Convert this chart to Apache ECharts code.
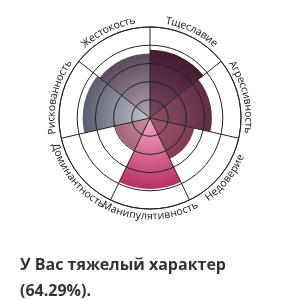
<!DOCTYPE html>
<html>
<head>
<meta charset="utf-8">
<script src="https://cdn.jsdelivr.net/npm/echarts@6/dist/echarts.min.js"></script>
<style>
  html, body { margin: 0; padding: 0; background: #fff; }
  #main { width: 300px; height: 300px; }
</style>
</head>
<body>
<div id="main"></div>
<script>
// черты характера, по часовой стрелке от верха
const categories = ['Тщеславие', 'Агрессивность', 'Недоверие', 'Манипулятивность', 'Доминантность', 'Рискованность', 'Жестокость'];
const values = [3.75, 3.4, 2.5, 3.9, 1.95, 3.7, 3.55];
const ringMax = 5;
const resultTitle = 'У Вас тяжелый характер';
const resultPercent = '64.29';

// цвета секторов: [центр, край]
const sectorColors = [
  ['#7a4866', '#3c172b'],
  ['#8e5068', '#56253c'],
  ['#a05a72', '#682a42'],
  ['#f4a8c6', '#b42a5e'],
  ['#c8909f', '#7a3650'],
  ['#c4c8d2', '#4c5060'],
  ['#b4a4b4', '#4a3a4c']
];

const cx = 150, cy = 118, R = 91;

const chart = echarts.init(document.getElementById('main'), null, { renderer: 'canvas' });

// подписи по дуге: каждая буква отдельным текстом
const labelFont = '10.5px "Open Sans"';
const ctx = document.createElement('canvas').getContext('2d');
ctx.font = labelFont;

function arcLabel(text, midDeg, r) {
  const widths = text.split('').map(ch => ctx.measureText(ch).width);
  const total = widths.reduce((a, b) => a + b, 0);
  const span = total / r;
  const mid = midDeg * Math.PI / 180;
  const upper = Math.sin(mid) > -0.2;
  const out = [];
  let acc = 0;
  for (let i = 0; i < text.length; i++) {
    const d = (acc + widths[i] / 2) / r;
    acc += widths[i];
    let a, rot;
    if (upper) {
      a = mid + span / 2 - d;
      rot = a - Math.PI / 2;
    } else {
      a = mid - span / 2 + d;
      rot = a + Math.PI / 2;
    }
    out.push({
      type: 'text',
      x: cx + r * Math.cos(a),
      y: cy - r * Math.sin(a),
      rotation: rot,
      style: {
        text: text[i],
        font: labelFont,
        fill: '#151515',
        align: 'center',
        verticalAlign: 'middle'
      }
    });
  }
  return out;
}

let labels = [];
const step = 360 / categories.length;
for (let i = 0; i < categories.length; i++) {
  const midDeg = 90 - step * (i + 0.5);
  labels = labels.concat(arcLabel(categories[i], midDeg, R + 7.5));
}

const option = {
  animation: false,
  title: {
    text: resultTitle + '\n(' + resultPercent + '%).',
    left: 15,
    top: 247,
    textStyle: {
      fontFamily: 'Open Sans',
      fontWeight: 'bold',
      fontSize: 16,
      lineHeight: 26,
      color: '#333'
    }
  },
  polar: {
    center: [cx, cy],
    radius: [0, R]
  },
  angleAxis: {
    type: 'category',
    data: categories,
    startAngle: 90,
    clockwise: true,
    z: 10,
    axisLine: { lineStyle: { color: '#222', width: 1 } },
    axisTick: { show: false },
    axisLabel: { show: false },
    splitLine: { show: true, lineStyle: { color: '#222', width: 1 } }
  },
  radiusAxis: {
    min: 0,
    max: ringMax,
    interval: 1,
    z: 10,
    axisLine: { show: false },
    axisTick: { show: false },
    axisLabel: { show: false },
    splitLine: { show: true, lineStyle: { color: '#222', width: 1 } }
  },
  series: [{
    type: 'bar',
    coordinateSystem: 'polar',
    barCategoryGap: '0%',
    data: values.map((v, i) => ({
      value: v,
      itemStyle: {
        color: {
          type: 'radial', x: cx, y: cy, r: 75, global: true,
          colorStops: [
            { offset: 0, color: sectorColors[i][0] },
            { offset: 1, color: sectorColors[i][1] }
          ]
        }
      }
    }))
  }],
  graphic: labels
};

chart.setOption(option);
</script>
</body>
</html>
